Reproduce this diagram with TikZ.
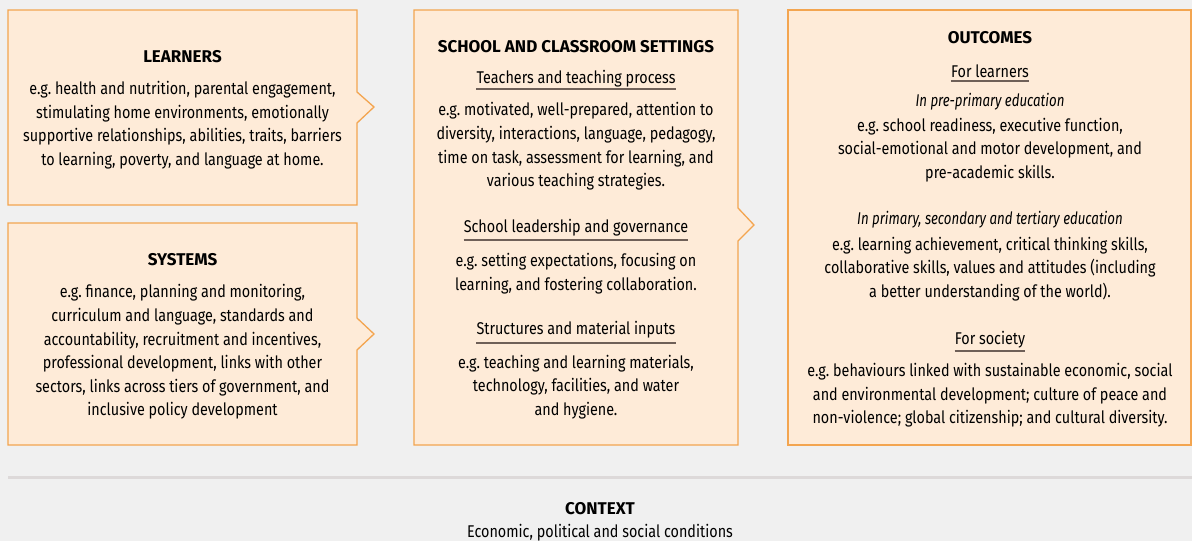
\documentclass[tikz,border=0pt]{standalone}
\usepackage{fontspec}
\setmainfont{Fira Sans}[FakeStretch=0.845]
\newfontfamily\ttlfont{Fira Sans}[FakeStretch=1.0]
\newfontfamily\itlfont{Fira Sans}[FakeStretch=0.78]
\frenchspacing
\usetikzlibrary{calc}
\definecolor{bg}{HTML}{F0F0F0}
\definecolor{boxfill}{HTML}{FEEBD8}
\definecolor{boxline}{HTML}{F3A550}
\definecolor{ulc}{HTML}{6F6058}
\definecolor{sepline}{HTML}{DDD9D9}
\tikzset{
  txt/.style={align=center, inner sep=0pt, text=black, font=\fontsize{17}{23.6}\selectfont},
  ttl/.style={inner sep=0pt, text=black, font=\fontsize{17}{20}\selectfont\ttlfont\bfseries},
  itl/.style={inner sep=0pt, text=black, font=\fontsize{17}{20}\selectfont\itlfont\itshape},
  boxshape/.style={draw=boxline, fill=boxfill, line width=1.3pt, line join=miter},
  uline/.style={draw=ulc, line width=1.3pt},
}
\begin{document}
\begin{tikzpicture}[x=1pt,y=-1pt]
\fill[bg] (0,0) rectangle (1192,541);
\useasboundingbox (0,0) rectangle (1192,541);
% boxes
\draw[boxshape] (8,10) -- (357,10) -- (357,92) -- (374,107) -- (357,123) -- (357,205) -- (8,205) -- cycle;
\draw[boxshape] (8,223) -- (357,223) -- (357,318) -- (374,334) -- (357,350) -- (357,445) -- (8,445) -- cycle;
\draw[boxshape] (414,10) -- (738,10) -- (738,208) -- (754,225) -- (738,241) -- (738,445) -- (414,445) -- cycle;
\draw[boxshape] (788,10) -- (1191,10) -- (1191,445) -- (788,445) -- cycle;
% separator
\coordinate (sepL) at (8,477);
\coordinate (sepR) at (1192,477);
\draw[sepline, line width=3pt] (sepL) -- (sepR);

% LEARNERS
\node[ttl] (lt) at (182.5,57) {LEARNERS};
\node[txt] (lp) at (182.5,125) {e.g. health and nutrition, parental engagement,\\stimulating home environments, emotionally\\supportive relationships, abilities, traits, barriers\\to learning, poverty, and language at home.};

% SYSTEMS
\node[ttl] (st) at (182.5,260) {SYSTEMS};
\node[txt] (sp) at (182.5,352) {e.g. finance, planning and monitoring,\\curriculum and language, standards and\\accountability, recruitment and incentives,\\professional development, links with other\\sectors, links across tiers of government, and\\inclusive policy development};

% SCHOOL
\node[ttl] (ct) at (576,47) {SCHOOL AND CLASSROOM SETTINGS};
\node[txt] (ch1) at (576,79) {Teachers and teaching process};
\draw[uline] ([yshift=-10pt]ch1.west) -- ([yshift=-10pt]ch1.east);
\node[txt] (cp1) at (576,146.5) {e.g. motivated, well-prepared, attention to\\diversity, interactions, language, pedagogy,\\time on task, assessment for learning, and\\various teaching strategies.};
\node[txt] (ch2) at (576,228) {School leadership and governance};
\draw[uline] ([yshift=-12pt]ch2.west) -- ([yshift=-12pt]ch2.east);
\node[txt] (cp2) at (576,273.5) {e.g. setting expectations, focusing on\\learning, and fostering collaboration.};
\node[txt] (ch3) at (576,330) {Structures and material inputs};
\draw[uline] ([yshift=-13pt]ch3.west) -- ([yshift=-13pt]ch3.east);
\node[txt] (cp3) at (576,387) {e.g. teaching and learning materials,\\technology, facilities, and water\\and hygiene.};

% OUTCOMES
\node[ttl] (ot) at (990,38) {OUTCOMES};
\node[txt] (oh1) at (990,71) {For learners};
\draw[uline] ([yshift=-10pt]oh1.west) -- ([yshift=-10pt]oh1.east);
\node[itl] (oi1) at (990,102) {In pre-primary education};
\node[txt] (op1) at (990,150) {e.g. school readiness, executive function,\\social-emotional and motor development, and\\pre-academic skills.};
\node[itl] (oi2) at (990,220) {In primary, secondary and tertiary education};
\node[txt] (op2) at (990,269) {e.g. learning achievement, critical thinking skills,\\collaborative skills, values and attitudes (including\\a better understanding of the world).};
\node[txt] (oh2) at (990,340) {For society};
\node[txt] (op3) at (990,395.5) {e.g. behaviours linked with sustainable economic, social\\and environmental development; culture of peace and\\non-violence; global citizenship; and cultural diversity.};
\draw[uline] ([yshift=-11pt]oh2.west) -- ([yshift=-11pt]oh2.east);

% CONTEXT
\node[ttl] (xt) at (600,509) {CONTEXT};
\node[txt] (xp) at (600,533) {Economic, political and social conditions};
\end{tikzpicture}
\end{document}
